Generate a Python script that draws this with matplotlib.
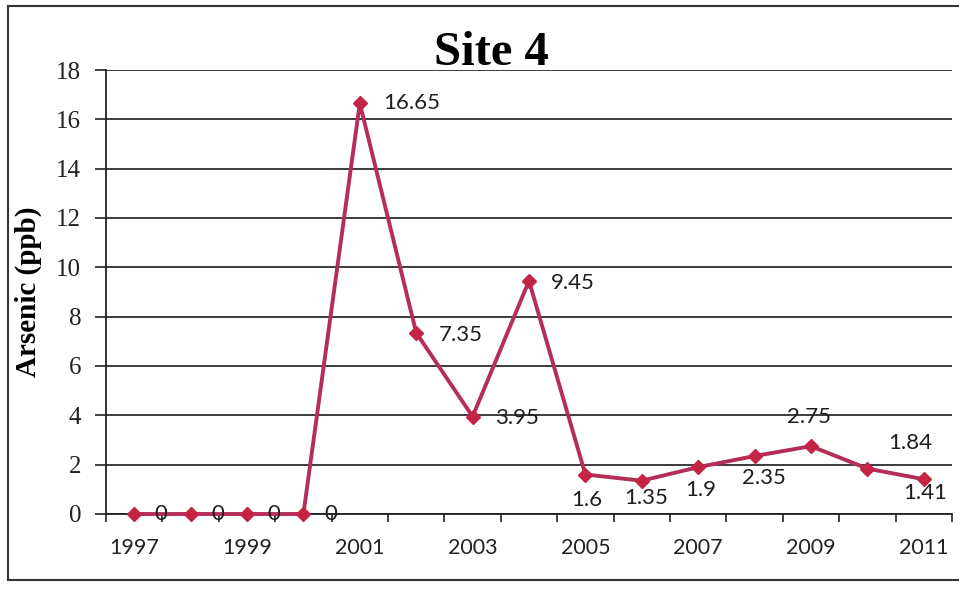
"""Arsenic at Site 4, 1997-2011, drawn as an Excel-style line chart."""

import matplotlib
matplotlib.use("Agg")
import matplotlib.pyplot as plt
from matplotlib.lines import Line2D
from matplotlib.ticker import FixedLocator, NullFormatter

years = [1997, 1998, 1999, 2000, 2001, 2002, 2003, 2004, 2005, 2006, 2007, 2008, 2009, 2010, 2011]
arsenic = [0, 0, 0, 0, 16.65, 7.35, 3.95, 9.45, 1.6, 1.35, 1.9, 2.35, 2.75, 1.84, 1.41]
value_labels = ["0", "0", "0", "0", "16.65", "7.35", "3.95", "9.45", "1.6", "1.35",
                "1.9", "2.35", "2.75", "1.84", "1.41"]
y_ticks = [0, 2, 4, 6, 8, 10, 12, 14, 16, 18]

# label placement, pixel offsets (dx, dy) from the point, as the chart author nudged them
label_offsets = [(27, 0), (27, 0), (27, 0), (27, 0), (52, 0), (45, -2), (44, -1), (44, -2),
                 (1, -25), (4, -17), (3, -23), (9, -22), (-2, 29), (43, 26), (1, -14)]

LINE = "#b52e58"
MARK = "#c42444"
SERIF = ["Liberation Serif", "DejaVu Serif"]
SANS = ["Lato", "DejaVu Sans"]

W, H = 962, 591
fig = plt.figure(figsize=(W / 100, H / 100), dpi=100)
ax = fig.add_axes([106 / W, 1 - 514 / H, 846 / W, 444 / H])

xs = list(range(len(years)))
ax.plot(xs, arsenic, color=LINE, lw=2.8, marker="D", ms=7.5,
        mfc=MARK, mec=MARK, zorder=3, clip_on=False)

for x, v, txt, (dx, dy) in zip(xs, arsenic, value_labels, label_offsets):
    ax.annotate(txt, (x, v), xytext=(dx, dy), textcoords="offset pixels",
                ha="center", va="center", fontsize=16, family=SANS, color="#1e1e1e")

ax.set_xlim(-0.5, len(years) - 0.5)
ax.set_ylim(0, 18)

# category labels every other year, tick marks between categories
ax.xaxis.set_major_locator(FixedLocator(xs[::2]))
ax.set_xticklabels([str(y) for y in years[::2]], family=SANS, fontsize=15.5, color="#222222")
ax.xaxis.set_minor_locator(FixedLocator([i - 0.5 for i in range(len(years) + 1)]))
ax.xaxis.set_minor_formatter(NullFormatter())
ax.tick_params(axis="x", which="major", length=0, pad=17)
ax.tick_params(axis="x", which="minor", length=6, width=1.2, color="#222222")

ax.set_yticks(y_ticks)
ax.set_yticklabels([str(t) for t in y_ticks], family=SERIF, fontsize=18, color="#222222")
ax.tick_params(axis="y", length=8, width=1.2, pad=10, color="#222222")

ax.grid(axis="y", color="#1a1a1a", lw=1.2)
ax.set_axisbelow(True)
for side in ("top", "right"):
    ax.spines[side].set_visible(False)
for side in ("left", "bottom"):
    ax.spines[side].set_color("#222222")
    ax.spines[side].set_linewidth(1.3)

ax.set_ylabel("Arsenic (ppb)", family=SERIF, fontsize=21, fontweight="bold")
ax.yaxis.set_label_coords(-64 / 846, 0.5)

fig.text(491 / W, 1 - 65 / H, "Site 4", ha="center", va="baseline",
         family=SERIF, fontsize=35, fontweight="bold")

# chart frame (right edge is cut off in the original)
for (x0, y0, x1, y1) in [(8, 6, 958, 6), (8, 6, 8, 580), (8, 580, 958, 580)]:
    fig.add_artist(Line2D([x0 / W, x1 / W], [1 - y0 / H, 1 - y1 / H],
                          transform=fig.transFigure, color="#333333", lw=1.5))

fig.savefig("out.png", dpi=100)
